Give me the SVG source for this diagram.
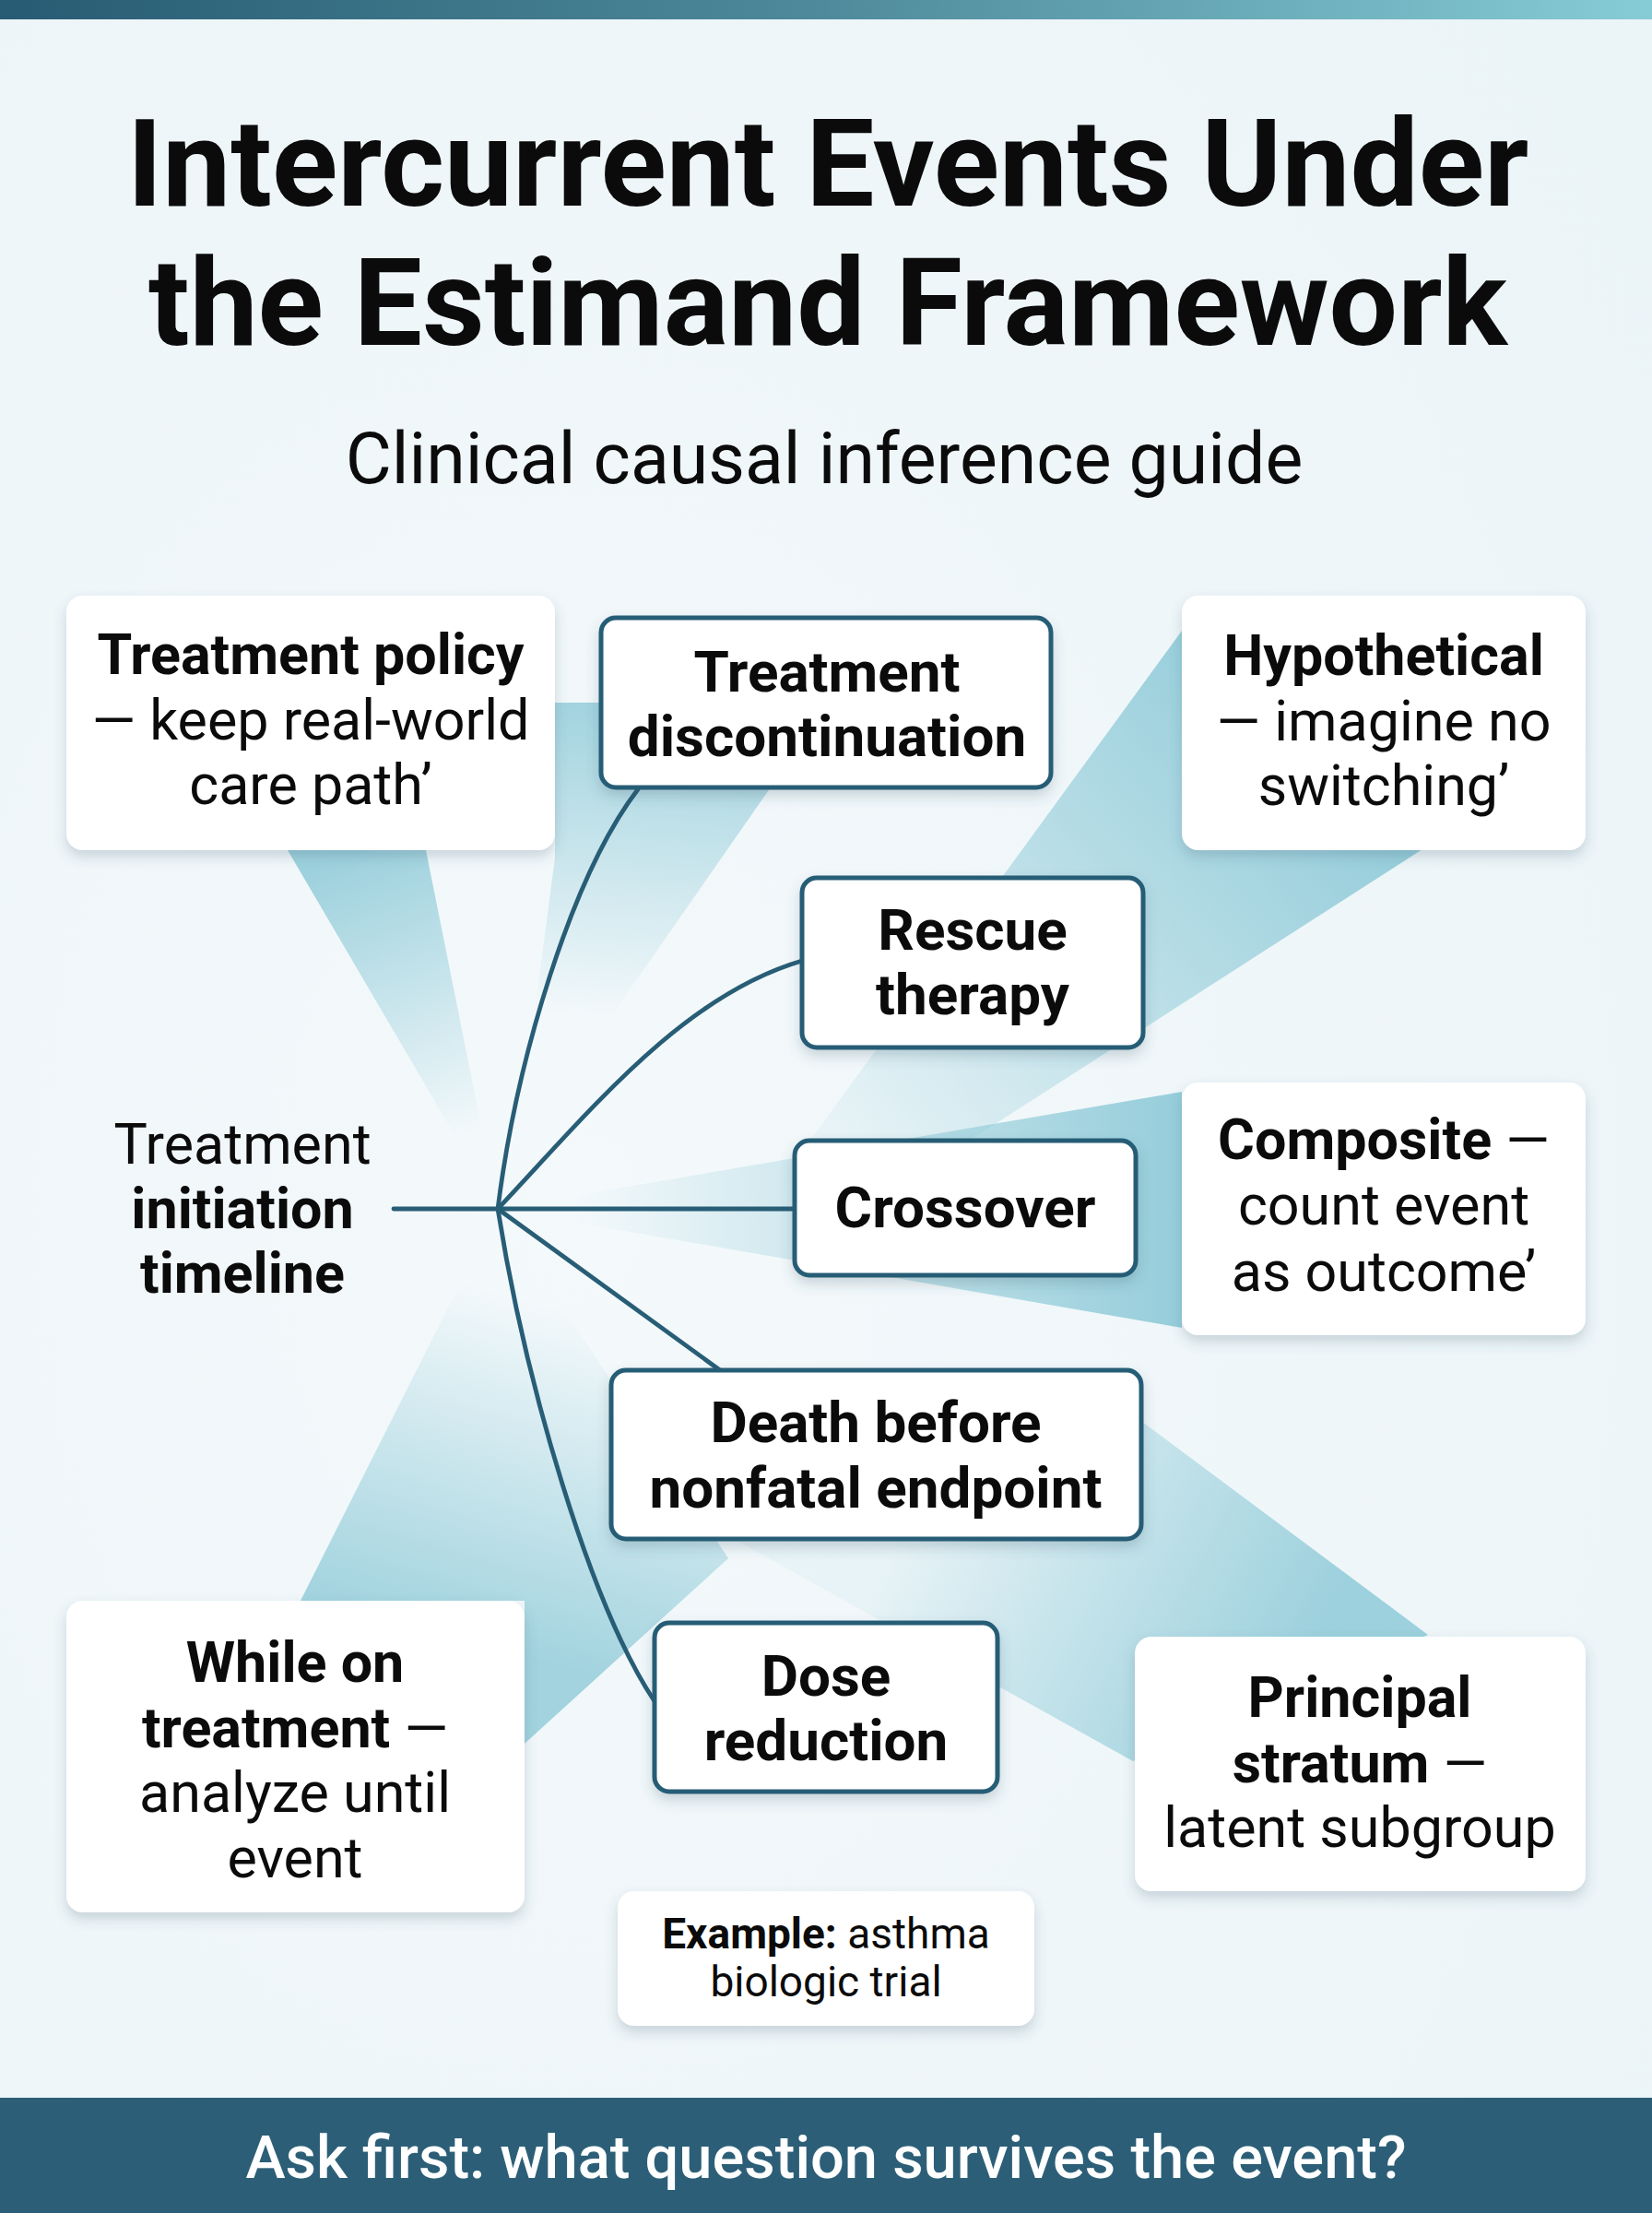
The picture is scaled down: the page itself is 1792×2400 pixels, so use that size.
<svg xmlns="http://www.w3.org/2000/svg" width="1792" height="2400" viewBox="0 0 1792 2400">
<style>
text{font-family:Roboto,"Liberation Sans",Arial,sans-serif;fill:#0b0b0b;text-anchor:middle}
.t{font-size:132px;font-weight:700}
.sub{font-size:77px;font-weight:400}
.b{font-size:61px;font-weight:700}
.eb{font-size:62px;font-weight:700}
.r{font-size:61px;font-weight:400}
.rn{font-weight:400}
.ex{font-size:46px}
.foot{font-size:65px;font-weight:500;fill:#ffffff}
.card{fill:#ffffff;filter:url(#sh)}
.ev{fill:#ffffff;stroke:#285d76;stroke-width:5;filter:url(#sh)}
.conn path,.conn line{fill:none;stroke:#285d76;stroke-width:4.8;stroke-linecap:round}
</style>
<defs>
<linearGradient id="topbar" x1="0" y1="0" x2="1" y2="0">
<stop offset="0" stop-color="#275b73"/>
<stop offset="0.5" stop-color="#4e8a9b"/>
<stop offset="1" stop-color="#86ccd6"/>
</linearGradient>
<radialGradient id="bg" cx="0.35" cy="0.55" r="0.8">
<stop offset="0" stop-color="#f4f9fb"/>
<stop offset="1" stop-color="#ebf4f7"/>
</radialGradient>
<linearGradient id="gA" gradientUnits="userSpaceOnUse" x1="510" y1="1230" x2="400" y2="922">
<stop offset="0" stop-color="#8ecad8" stop-opacity="0"/>
<stop offset="1" stop-color="#8ecad8" stop-opacity="0.85"/>
</linearGradient>
<linearGradient id="gB" gradientUnits="userSpaceOnUse" x1="600" y1="1100" x2="630" y2="762">
<stop offset="0" stop-color="#8ecad8" stop-opacity="0"/>
<stop offset="1" stop-color="#8ecad8" stop-opacity="0.8"/>
</linearGradient>
<linearGradient id="gC" gradientUnits="userSpaceOnUse" x1="850" y1="1300" x2="1400" y2="800">
<stop offset="0" stop-color="#8ecad8" stop-opacity="0"/>
<stop offset="1" stop-color="#8ecad8" stop-opacity="0.9"/>
</linearGradient>
<linearGradient id="gD" gradientUnits="userSpaceOnUse" x1="620" y1="1311" x2="1282" y2="1311">
<stop offset="0" stop-color="#8ecad8" stop-opacity="0"/>
<stop offset="1" stop-color="#8ecad8" stop-opacity="0.92"/>
</linearGradient>
<linearGradient id="gE" gradientUnits="userSpaceOnUse" x1="1000" y1="1620" x2="1400" y2="1830">
<stop offset="0" stop-color="#8ecad8" stop-opacity="0.1"/>
<stop offset="1" stop-color="#8ecad8" stop-opacity="0.85"/>
</linearGradient>
<linearGradient id="gF" gradientUnits="userSpaceOnUse" x1="540" y1="1400" x2="440" y2="1760">
<stop offset="0" stop-color="#8ecad8" stop-opacity="0"/>
<stop offset="1" stop-color="#8ecad8" stop-opacity="0.8"/>
</linearGradient>
<filter id="sh" x="-10%" y="-10%" width="120%" height="130%">
<feDropShadow dx="0" dy="7" stdDeviation="7" flood-color="#2f5567" flood-opacity="0.22"/>
</filter>
</defs>

<rect x="0" y="0" width="1792" height="2400" fill="url(#bg)"/>
<rect x="0" y="0" width="1792" height="21" fill="url(#topbar)"/>

<g id="beams">
<polygon points="540,1311 312,922 462,922" fill="url(#gA)"/>
<polygon points="602,762 900,762 560,1250 602,930" fill="url(#gB)"/>
<polygon points="726,1446 1282,684 1543,921" fill="url(#gC)"/>
<polygon points="540,1311 1282,1184 1282,1440" fill="url(#gD)"/>
<polygon points="760,1649 1229,1910 1549,1773 1180,1498" fill="url(#gE)"/>
<polygon points="540,1311 326,1736 569,1736 569,1891 790,1690" fill="url(#gF)"/>
</g>

<g id="title">
<text class="t" x="898" y="223">Intercurrent Events Under</text>
<text class="t" x="898" y="374">the Estimand Framework</text>
<text class="sub" x="894" y="524">Clinical causal inference guide</text>
</g>

<g class="conn" id="connectors">
<line x1="427" y1="1311" x2="862" y2="1311"/>
<path d="M540,1311 C560,1150 620,950 692,856"/>
<path d="M540,1311 C640,1205 740,1080 870,1042"/>
<path d="M540,1311 L781,1486"/>
<path d="M540,1311 C570,1500 640,1740 710,1845"/>
</g>

<g id="timeline">
<text class="r" x="263" y="1262">Treatment</text>
<text class="b" x="263" y="1332">initiation</text>
<text class="b" x="263" y="1402">timeline</text>
</g>

<g id="treatment-policy">
<rect class="card" x="72" y="646" width="530" height="276" rx="18"/>
<text class="b" x="337" y="731">Treatment policy</text>
<text class="r" x="337" y="802">— keep real-world</text>
<text class="r" x="337" y="872">care path’</text>
</g>

<g id="hypothetical">
<rect class="card" x="1282" y="646" width="438" height="276" rx="18"/>
<text class="b" x="1501" y="732">Hypothetical</text>
<text class="r" x="1501" y="803">— imagine no</text>
<text class="r" x="1501" y="873">switching’</text>
</g>

<g id="composite">
<rect class="card" x="1282" y="1174" width="438" height="274" rx="18"/>
<text class="b" x="1501" y="1257">Composite <tspan class="rn">—</tspan></text>
<text class="r" x="1501" y="1328">count event</text>
<text class="r" x="1501" y="1400">as outcome’</text>
</g>

<g id="while-on-treatment">
<rect class="card" x="72" y="1736" width="497" height="338" rx="18"/>
<text class="b" x="320" y="1824">While on</text>
<text class="b" x="320" y="1895">treatment <tspan class="rn">—</tspan></text>
<text class="r" x="320" y="1965">analyze until</text>
<text class="r" x="320" y="2036">event</text>
</g>

<g id="principal-stratum">
<rect class="card" x="1231" y="1775" width="489" height="276" rx="18"/>
<text class="b" x="1475" y="1862">Principal</text>
<text class="b" x="1475" y="1933">stratum <tspan class="rn">—</tspan></text>
<text class="r" x="1475" y="2003">latent subgroup</text>
</g>

<g id="example">
<rect class="card" x="670" y="2051" width="452" height="146" rx="18"/>
<text class="ex" x="896" y="2113"><tspan font-weight="700">Example:</tspan> asthma</text>
<text class="ex" x="896" y="2165">biologic trial</text>
</g>

<g id="treatment-discontinuation">
<rect class="ev" x="652" y="670" width="488" height="184" rx="16"/>
<text class="eb" x="897" y="750">Treatment</text>
<text class="eb" x="897" y="820">discontinuation</text>
</g>

<g id="rescue-therapy">
<rect class="ev" x="870" y="952" width="370" height="184" rx="16"/>
<text class="eb" x="1055" y="1030">Rescue</text>
<text class="eb" x="1055" y="1100">therapy</text>
</g>

<g id="crossover">
<rect class="ev" x="862" y="1237" width="370" height="146" rx="16"/>
<text class="eb" x="1047" y="1331">Crossover</text>
</g>

<g id="death-before-nonfatal">
<rect class="ev" x="663" y="1486" width="575" height="183" rx="16"/>
<text class="eb" x="950" y="1564">Death before</text>
<text class="eb" x="950" y="1635">nonfatal endpoint</text>
</g>

<g id="dose-reduction">
<rect class="ev" x="710" y="1760" width="372" height="183" rx="16"/>
<text class="eb" x="896" y="1839">Dose</text>
<text class="eb" x="896" y="1909">reduction</text>
</g>

<g id="footer">
<rect x="0" y="2275" width="1792" height="125" fill="#2c5f77"/>
<text class="foot" x="896" y="2362">Ask first: what question survives the event?</text>
</g>
</svg>
